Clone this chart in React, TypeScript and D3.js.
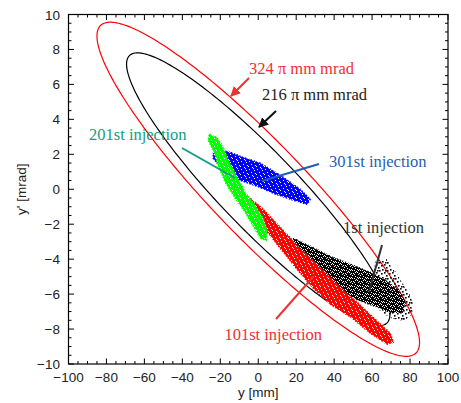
import React from "react";
import * as d3 from "d3";

// Axis ticks
const xMajorTicks = [-100, -80, -60, -40, -20, 0, 20, 40, 60, 80, 100];
const yMajorTicks = [-10, -8, -6, -4, -2, 0, 2, 4, 6, 8, 10];

// Acceptance ellipses (emittance in pi mm mrad) and Twiss parameters
const emittances = [324, 216];
const ellipseColors = ["#ff0000", "#000000"];
const twissAlpha = 2.3;
const twissBeta = 22.3;

// Particle cloud outlines [y (mm), y' (mrad)]
const blackDense: [number, number][] = [
  [18.5, -2.8], [27.4, -3.26], [38.0, -3.84], [48.5, -4.29], [59.0, -4.75], [66.9, -5.21],
  [73.8, -5.78], [77.5, -6.47], [75.9, -7.04], [69.6, -7.04], [61.7, -6.7], [52.7, -6.35],
  [43.2, -5.78], [32.7, -4.98], [24.8, -4.18], [19.0, -3.38],
];
const blackSparse: [number, number][] = [
  [61.7, -4.18], [66.9, -3.95], [72.2, -4.75], [77.5, -5.67], [81.2, -6.35], [81.2, -7.04],
  [77.5, -7.5], [70.6, -7.38], [64.3, -6.93], [60.1, -5.78],
];
const redCloud: [number, number][] = [
  [-4.2, -0.52], [2.1, -1.09], [11.6, -2.18], [22.1, -3.38], [32.7, -4.46], [43.2, -5.61],
  [53.8, -6.64], [63.3, -7.61], [69.6, -8.24], [71.2, -8.76], [68.0, -8.87], [59.0, -8.24],
  [49.6, -7.38], [38.0, -6.58], [28.5, -5.61], [20.0, -4.52], [11.6, -3.38], [3.7, -2.29],
  [-2.1, -1.37], [-5.3, -0.86],
];
const blueCloud: [number, number][] = [
  [-23.7, 2.06], [-16.3, 2.18], [-9.5, 1.89], [1.1, 1.49], [11.6, 0.8], [22.1, 0.0],
  [27.4, -0.57], [25.8, -0.86], [18.5, -0.63], [7.9, -0.23], [-0.5, 0.17], [-9.5, 0.52],
  [-16.3, 0.97], [-21.6, 1.49], [-23.7, 1.77],
];
const greenCloud: [number, number][] = [
  [-25.8, 3.15], [-22.1, 2.98], [-19.0, 2.52], [-15.8, 1.66], [-11.6, 0.8], [-6.9, -0.17],
  [-1.6, -0.92], [2.6, -1.66], [4.7, -2.35], [4.2, -2.92], [1.1, -2.8], [-2.6, -2.12],
  [-6.9, -1.32], [-12.1, -0.52], [-17.4, 0.4], [-21.1, 1.37], [-23.7, 2.23], [-26.4, 2.8],
];

const W = 461;
const H = 403;
const left = 68.5, right = 448, top = 14.5, bottom = 364;

const serif = "'Liberation Serif', 'Times New Roman', serif";
const sans = "'Liberation Sans', Arial, Helvetica, sans-serif";

// speckle layouts for the cloud textures (8x8 tile cells)
const denseHoles = [[1, 1], [6, 2], [3, 4], [7, 5], [0, 6], [4, 7], [5, 0]];
const mediumHoles = [[1, 1], [6, 2], [3, 4], [7, 5], [0, 6], [4, 7], [5, 0], [2, 2], [6, 6], [3, 0], [0, 3], [5, 5], [7, 1], [2, 6]];
const sparseDots = [[0, 0], [5, 1], [2, 3], [6, 5], [3, 6], [1, 6]];

export default function App() {
  const x = d3.scaleLinear().domain([-100, 100]).range([left, right]);
  const y = d3.scaleLinear().domain([-10, 10]).range([bottom, top]);

  const xMinor = d3.range(-100, 100.001, 5);
  const yMinor = d3.range(-10, 10.001, 0.5);

  const line = d3.line<[number, number]>().x((d) => x(d[0])).y((d) => y(d[1]));
  const closed = d3
    .line<[number, number]>()
    .x((d) => x(d[0]))
    .y((d) => y(d[1]))
    .curve(d3.curveLinearClosed);

  const ellipse = (eps: number): [number, number][] => {
    const phis = d3.range(0, 2 * Math.PI + 0.001, (2 * Math.PI) / 240);
    return phis.map((p) => [
      Math.sqrt(eps * twissBeta) * Math.cos(p),
      -Math.sqrt(eps / twissBeta) * (twissAlpha * Math.cos(p) + Math.sin(p)),
    ]);
  };

  const patt = (id: string, color: string, mode: "dense" | "medium" | "sparse") => {
    if (mode === "sparse") {
      return (
        <pattern id={id} width={8} height={8} patternUnits="userSpaceOnUse">
          {sparseDots.map(([dx, dy], i) => (
            <rect key={i} x={dx} y={dy} width={1.6} height={1.6} fill={color} />
          ))}
        </pattern>
      );
    }
    const holes = mode === "dense" ? denseHoles : mediumHoles;
    return (
      <pattern id={id} width={8} height={8} patternUnits="userSpaceOnUse">
        <rect width={8} height={8} fill={color} />
        {holes.map(([hx, hy], i) => (
          <rect key={i} x={hx} y={hy} width={1} height={1} fill="#fff" />
        ))}
      </pattern>
    );
  };

  const cloud = (pts: [number, number][], pid: string) => (
    <path
      d={closed(pts) || ""}
      fill={`url(#${pid})`}
      stroke={`url(#${pid})`}
      strokeWidth={1.5}
      strokeDasharray="1.5 1.5"
    />
  );

  const ann = (
    x1: number, y1: number, x2: number, y2: number, color: string, arrow?: string
  ) => (
    <line
      x1={x1}
      y1={y1}
      x2={x2}
      y2={y2}
      stroke={color}
      strokeWidth={2}
      markerEnd={arrow ? `url(#${arrow})` : undefined}
    />
  );

  return (
    <svg width={W} height={H} style={{ display: "block", position: "absolute", left: 0, top: 0 }}>
      <defs>
        {patt("p-black", "#000", "medium")}
        {patt("p-black-s", "#000", "sparse")}
        {patt("p-red", "#ff0000", "dense")}
        {patt("p-blue", "#0000ff", "dense")}
        {patt("p-green", "#00ff00", "dense")}
        <marker id="ar-red" viewBox="0 0 10 10" refX={9} refY={5} markerWidth={5} markerHeight={5} orient="auto">
          <path d="M0,0 L10,5 L0,10 z" fill="#f03030" />
        </marker>
        <marker id="ar-black" viewBox="0 0 10 10" refX={9} refY={5} markerWidth={5} markerHeight={5} orient="auto">
          <path d="M0,0 L10,5 L0,10 z" fill="#111" />
        </marker>
      </defs>
      <rect width={W} height={H} fill="#fff" />

      {/* ellipses */}
      {emittances.map((e, i) => (
        <path key={e} d={line(ellipse(e)) || ""} fill="none" stroke={ellipseColors[i]} strokeWidth={1.2} />
      ))}

      {/* clouds */}
      {cloud(blackSparse, "p-black-s")}
      {cloud(blackDense, "p-black")}
      {cloud(redCloud, "p-red")}
      {cloud(blueCloud, "p-blue")}
      {cloud(greenCloud, "p-green")}

      {/* frame */}
      <rect x={left} y={top} width={right - left} height={bottom - top} fill="none" stroke="#000" strokeWidth={1.2} />
      {xMinor.map((v) => {
        const major = Math.abs(v % 20) < 1e-6;
        const len = major ? 5.5 : 3;
        return (
          <g key={"xt" + v} stroke="#000" strokeWidth={1}>
            <line x1={x(v)} x2={x(v)} y1={bottom} y2={bottom - len} />
            <line x1={x(v)} x2={x(v)} y1={top} y2={top + len} />
          </g>
        );
      })}
      {yMinor.map((v) => {
        const major = Math.abs(v % 2) < 1e-6;
        const len = major ? 5.5 : 3;
        return (
          <g key={"yt" + v} stroke="#000" strokeWidth={1}>
            <line x1={left} x2={left + len} y1={y(v)} y2={y(v)} />
            <line x1={right} x2={right - len} y1={y(v)} y2={y(v)} />
          </g>
        );
      })}
      {xMajorTicks.map((v) => (
        <text key={"xl" + v} x={x(v)} y={382} textAnchor="middle" fontFamily={sans} fontSize={13.5} fill="#222">
          {v < 0 ? "\u2212" + Math.abs(v) : String(v)}
        </text>
      ))}
      {yMajorTicks.map((v) => (
        <text key={"yl" + v} x={60} y={y(v) + 5} textAnchor="end" fontFamily={sans} fontSize={13.5} fill="#222">
          {v < 0 ? "\u2212" + Math.abs(v) : String(v)}
        </text>
      ))}
      <text x={x(0)} y={397} textAnchor="middle" fontFamily={sans} fontSize={13.5} fill="#222">
        y [mm]
      </text>
      <text
        transform={`translate(26,${y(0)}) rotate(-90)`}
        textAnchor="middle"
        fontFamily={sans}
        fontSize={13.5}
        fill="#222"
      >
        y' [mrad]
      </text>

      {/* annotations */}
      {ann(249, 78, 231, 96, "#f03030", "ar-red")}
      {ann(276, 111, 259, 127, "#111", "ar-black")}
      {ann(182, 148, 235, 178, "#139e84")}
      {ann(319, 164, 262, 181, "#1f5fb0")}
      {ann(382, 245, 369, 292, "#333")}
      {ann(276, 319, 314, 276, "#f03030")}

      <text x={249} y={74} fontFamily={serif} fontSize={16.5} fill="#f03030">324 π mm mrad</text>
      <text x={262} y={100} fontFamily={serif} fontSize={16.5} fill="#222">216 π mm mrad</text>
      <text x={329} y={167} fontFamily={serif} fontSize={16.5} fill="#1f5fb0">301st injection</text>
      <text x={89} y={140} fontFamily={serif} fontSize={16.5} fill="#139e84">201st injection</text>
      <text x={343} y={233} fontFamily={serif} fontSize={16.5} fill="#333">1st injection</text>
      <text x={322} y={340} textAnchor="end" fontFamily={serif} fontSize={16.5} fill="#f03030">101st injection</text>
    </svg>
  );
}
